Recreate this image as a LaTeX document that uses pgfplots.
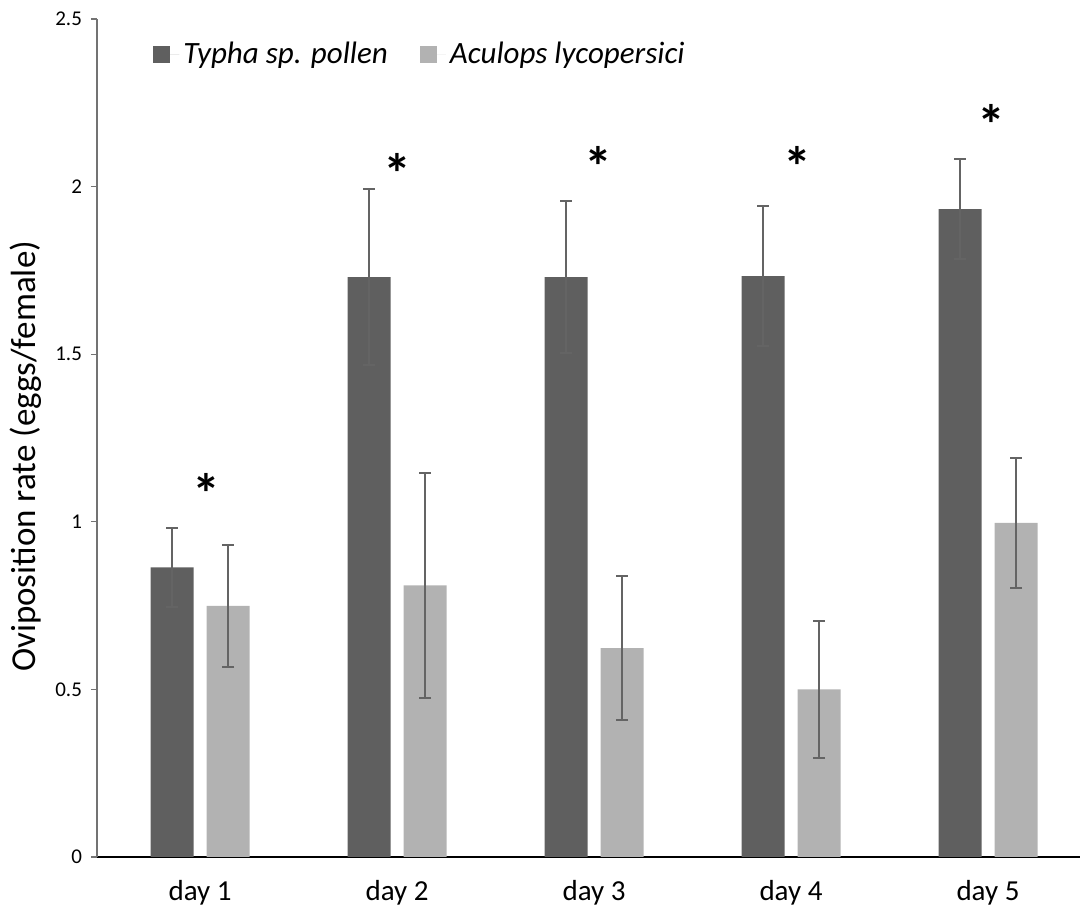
\documentclass[border=0pt]{standalone}
\usepackage{pgfplots}
\pgfplotsset{compat=1.18}
\usepackage{fontspec}
\setmainfont{Carlito}
\usetikzlibrary{calc}
\definecolor{darkbar}{RGB}{95,95,95}
\definecolor{lightbar}{RGB}{178,178,178}
\definecolor{errc}{RGB}{100,100,100}
\begin{document}
\begin{tikzpicture}
\begin{axis}[
  scale only axis,
  width=491.5pt, height=419pt,
  xmin=-0.523, xmax=4.467,
  ymin=0, ymax=2.5,
  ybar=6.5pt, bar width=21.5pt,
  ytick={0,0.5,1,1.5,2,2.5},
  xtick={0,1,2,3,4},
  xticklabels={day 1,day 2,day 3,day 4,day 5},
  axis x line*=bottom, axis y line*=left,
  x axis line style={black, line width=1pt},
  y axis line style={black!55, line width=0.6pt},
  xtick style={draw=none},
  ytick style={black!55, line width=0.6pt},
  tick align=outside,
  major tick length=3pt,
  /pgf/number format/assume math mode=true,
  yticklabel style={font=\fontsize{10.5}{12}\selectfont, anchor=east, xshift=-1pt},
  xticklabel style={font=\fontsize{14.5}{17}\selectfont, anchor=base, yshift=-19pt},
  ylabel={Oviposition rate (eggs/female)},
  ylabel style={font=\fontsize{17.5}{20}\selectfont, at={(axis description cs:-0.073,0.478)}, anchor=center},
  legend columns=2,
  legend style={draw=none, fill=none, at={(axis description cs:0.057,0.958)}, anchor=west,
    font=\itshape\fontsize{15.5}{18}\selectfont, inner sep=0pt,
    /tikz/every even column/.append style={column sep=14pt}},
  legend image code/.code={\fill[#1] (0pt,-4.25pt) rectangle (8.5pt,4.25pt); \path (0pt,0pt) -- (13pt,0pt);},
  clip=false,
  error bars/y dir=both, error bars/y explicit,
  error bars/error bar style={errc, line width=1pt},
  error bars/error mark options={errc, line width=1pt, mark size=3pt, rotate=90},
]
\addplot[fill=darkbar, draw=none] coordinates {
(0,0.864) +- (0,0.118)
(1,1.730) +- (0,0.262)
(2,1.730) +- (0,0.227)
(3,1.733) +- (0,0.209)
(4,1.933) +- (0,0.149)
};
\addlegendentry{Typha sp. pollen}
\addplot[fill=lightbar, draw=none] coordinates {
(0,0.749) +- (0,0.183)
(1,0.810) +- (0,0.336)
(2,0.623) +- (0,0.215)
(3,0.500) +- (0,0.205)
(4,0.997) +- (0,0.194)
};
\addlegendentry{Aculops lycopersici}
\tikzset{star/.style={font=\bfseries\fontsize{28}{30}\selectfont, anchor=center, yshift=-4.7pt, inner sep=0pt}}
\node[star] at (axis cs:0.034,1.113) {*};
\node[star] at (axis cs:1.0,2.067) {*};
\node[star] at (axis cs:2.02,2.088) {*};
\node[star] at (axis cs:3.035,2.087) {*};
\node[star] at (axis cs:4.015,2.214) {*};
\end{axis}
\path ($(current axis.south west)+(-48.5pt,-29.5pt)$) rectangle ($(current axis.north east)+(2pt,9.5pt)$);
\end{tikzpicture}
\end{document}
